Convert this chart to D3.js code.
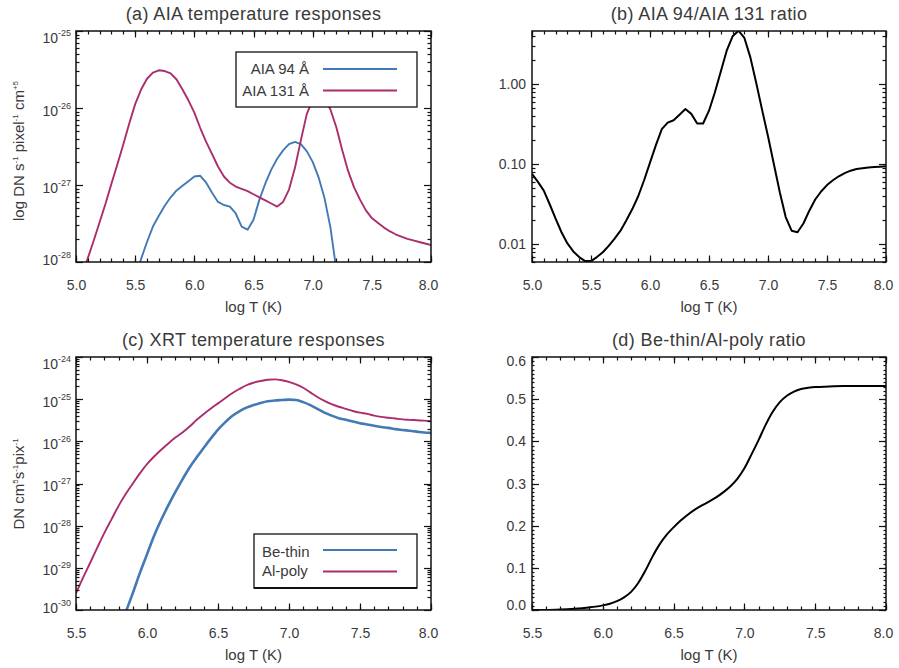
<!DOCTYPE html>
<html><head><meta charset="utf-8">
<script src="https://cdn.jsdelivr.net/npm/d3@7"></script>
<style>
body{margin:0;background:#fff}
svg text{font-family:"Liberation Sans",Arial,Helvetica,sans-serif}
</style>
</head><body>
<svg id="chart" width="899" height="668"></svg>
<script>
// ---------------- DATA ----------------
// (a) AIA temperature responses, log10(DN s^-1 pixel^-1 cm^5)
const tAIA94 = [5.50,5.55,5.60,5.65,5.70,5.75,5.80,5.85,5.90,5.95,6.00,6.05,6.10,6.15,6.20,6.25,6.30,6.35,6.40,6.45,6.50,6.55,6.60,6.65,6.70,6.75,6.80,6.85,6.90,6.95,7.00,7.05,7.10,7.15,7.20,7.25];
const aia94Log = [-28.25,-27.96,-27.74,-27.54,-27.40,-27.27,-27.16,-27.07,-27.01,-26.95,-26.89,-26.88,-26.97,-27.10,-27.22,-27.26,-27.28,-27.37,-27.54,-27.58,-27.45,-27.19,-26.98,-26.80,-26.66,-26.55,-26.47,-26.44,-26.47,-26.56,-26.70,-26.90,-27.17,-27.55,-28.10,-28.60];
const tAIA131 = [5.05,5.10,5.15,5.20,5.25,5.30,5.35,5.40,5.45,5.50,5.55,5.60,5.65,5.70,5.75,5.80,5.85,5.90,5.95,6.00,6.05,6.10,6.15,6.20,6.25,6.30,6.35,6.40,6.45,6.50,6.55,6.60,6.65,6.70,6.75,6.80,6.85,6.90,6.95,7.00,7.05,7.10,7.15,7.20,7.25,7.30,7.35,7.40,7.45,7.50,7.55,7.60,7.65,7.70,7.75,7.80,7.85,7.90,7.95,8.00];
const aia131Log = [-28.18,-27.95,-27.72,-27.48,-27.24,-26.98,-26.73,-26.47,-26.20,-25.95,-25.76,-25.62,-25.54,-25.51,-25.52,-25.55,-25.63,-25.76,-25.90,-26.06,-26.26,-26.44,-26.60,-26.76,-26.89,-26.97,-27.02,-27.05,-27.08,-27.12,-27.16,-27.20,-27.24,-27.28,-27.22,-27.06,-26.78,-26.42,-26.08,-25.89,-25.82,-25.87,-26.02,-26.25,-26.55,-26.82,-27.03,-27.19,-27.33,-27.43,-27.49,-27.55,-27.60,-27.64,-27.67,-27.70,-27.72,-27.74,-27.76,-27.78];

// (b) AIA 94 / AIA 131 ratio, log10
const tRatioAIA = [5.00,5.05,5.10,5.15,5.20,5.25,5.30,5.35,5.40,5.45,5.50,5.55,5.60,5.65,5.70,5.75,5.80,5.85,5.90,5.95,6.00,6.05,6.10,6.15,6.20,6.25,6.30,6.35,6.40,6.45,6.50,6.55,6.60,6.65,6.70,6.75,6.80,6.85,6.90,6.95,7.00,7.05,7.10,7.15,7.20,7.25,7.30,7.35,7.40,7.45,7.50,7.55,7.60,7.65,7.70,7.75,7.80,7.85,7.90,7.95,8.00];
const ratioAIALog = [-1.12,-1.22,-1.33,-1.50,-1.68,-1.85,-1.99,-2.09,-2.16,-2.21,-2.21,-2.16,-2.10,-2.02,-1.93,-1.83,-1.70,-1.56,-1.40,-1.20,-0.98,-0.76,-0.56,-0.48,-0.45,-0.38,-0.31,-0.37,-0.49,-0.49,-0.33,-0.10,0.16,0.42,0.60,0.67,0.58,0.34,0.02,-0.32,-0.65,-1.00,-1.35,-1.66,-1.83,-1.85,-1.74,-1.58,-1.44,-1.34,-1.26,-1.20,-1.15,-1.11,-1.08,-1.06,-1.05,-1.04,-1.035,-1.03,-1.025];

// (c) XRT temperature responses, log10(DN cm^5 s^-1 pix^-1)
const tAlPoly = [5.50,5.55,5.60,5.65,5.70,5.75,5.80,5.85,5.90,5.95,6.00,6.05,6.10,6.15,6.20,6.25,6.30,6.35,6.40,6.45,6.50,6.55,6.60,6.65,6.70,6.75,6.80,6.85,6.90,6.95,7.00,7.05,7.10,7.15,7.20,7.25,7.30,7.35,7.40,7.45,7.50,7.55,7.60,7.65,7.70,7.75,7.80,7.85,7.90,7.95,8.00];
const alPolyLog = [-29.60,-29.23,-28.88,-28.52,-28.17,-27.85,-27.53,-27.25,-27.00,-26.76,-26.54,-26.36,-26.20,-26.05,-25.91,-25.79,-25.65,-25.49,-25.35,-25.22,-25.10,-24.98,-24.86,-24.76,-24.67,-24.61,-24.57,-24.54,-24.53,-24.55,-24.59,-24.65,-24.73,-24.84,-24.95,-25.04,-25.12,-25.18,-25.23,-25.28,-25.32,-25.35,-25.39,-25.42,-25.44,-25.46,-25.48,-25.49,-25.50,-25.51,-25.52];
const tBeThin = [5.80,5.85,5.90,5.95,6.00,6.05,6.10,6.15,6.20,6.25,6.30,6.35,6.40,6.45,6.50,6.55,6.60,6.65,6.70,6.75,6.80,6.85,6.90,6.95,7.00,7.05,7.10,7.15,7.20,7.25,7.30,7.35,7.40,7.45,7.50,7.55,7.60,7.65,7.70,7.75,7.80,7.85,7.90,7.95,8.00];
const beThinLog = [-30.50,-30.05,-29.60,-29.12,-28.68,-28.24,-27.86,-27.52,-27.20,-26.90,-26.62,-26.38,-26.15,-25.93,-25.72,-25.55,-25.40,-25.29,-25.20,-25.14,-25.09,-25.05,-25.03,-25.02,-25.01,-25.02,-25.07,-25.14,-25.23,-25.32,-25.39,-25.45,-25.49,-25.53,-25.57,-25.60,-25.63,-25.66,-25.68,-25.71,-25.73,-25.75,-25.77,-25.79,-25.80];

// (d) Be-thin / Al-poly ratio
const tRatioXRT = [5.50,5.60,5.70,5.80,5.90,5.95,6.00,6.05,6.10,6.15,6.20,6.25,6.30,6.35,6.40,6.45,6.50,6.55,6.60,6.65,6.70,6.75,6.80,6.85,6.90,6.95,7.00,7.05,7.10,7.15,7.20,7.25,7.30,7.35,7.40,7.45,7.50,7.60,7.70,7.80,7.90,8.00];
const ratioXRT = [0.000,0.000,0.001,0.003,0.006,0.008,0.011,0.015,0.021,0.030,0.043,0.064,0.093,0.126,0.155,0.178,0.196,0.212,0.226,0.238,0.248,0.257,0.267,0.279,0.293,0.311,0.336,0.369,0.403,0.439,0.470,0.493,0.508,0.518,0.524,0.527,0.529,0.530,0.531,0.531,0.531,0.531];

// tick labels
const xTicksAB = [5.0,5.5,6.0,6.5,7.0,7.5,8.0];
const xTicksCD = [5.5,6.0,6.5,7.0,7.5,8.0];
const yTicksA = [1e-28,1e-27,1e-26,1e-25];
const yTicksB = [0.01,0.1,1];
const yTicksC = [1e-30,1e-29,1e-28,1e-27,1e-26,1e-25,1e-24];
const yTicksD = [0,0.1,0.2,0.3,0.4,0.5,0.6];

const BLUE = "#4379b5", MAG = "#ac2d6d", INK = "#111", TXT = "#3a3a3a";
const FONT = '"Liberation Sans",Arial,Helvetica,sans-serif';

// ---------------- DRAW ----------------
const svg = d3.select("#chart");

function logMinors(domain){
  const out=[]; const lo=Math.floor(Math.log10(domain[0])), hi=Math.ceil(Math.log10(domain[1]));
  for(let e=lo;e<=hi;e++) for(let k=2;k<=9;k++){const v=k*Math.pow(10,e); if(v>=domain[0]*0.9999 && v<=domain[1]*1.0001) out.push(v);}
  return out;
}

function tickMarks(g, vals, pos, horizontal, edge, len){
  const r = v => Math.round(v)+0.5;
  g.selectAll(null).data(vals).join("line")
    .attr("x1", d=> horizontal ? r(pos(d)) : edge)
    .attr("x2", d=> horizontal ? r(pos(d)) : edge+len)
    .attr("y1", d=> horizontal ? edge : r(pos(d)))
    .attr("y2", d=> horizontal ? edge+len : r(pos(d)))
    .attr("stroke", INK).attr("stroke-width", 1.2);
}

function panel(p){
  const g = svg.append("g");
  const x = d3.scaleLinear().domain(p.xDomain).range([p.left,p.right]);
  const y = (p.log?d3.scaleLog():d3.scaleLinear()).domain(p.yDomain).range([p.bottom,p.top]);
  const cid = "clip_"+p.id;
  svg.append("clipPath").attr("id",cid).append("rect")
    .attr("x",p.left).attr("y",p.top).attr("width",p.right-p.left).attr("height",p.bottom-p.top);

  p.series.forEach(s=>{
    const pts = d3.zip(s.x,s.y);
    g.append("path").datum(pts)
      .attr("clip-path",`url(#${cid})`)
      .attr("fill","none").attr("stroke",s.color).attr("stroke-width",s.width||1.8)
      .attr("stroke-linejoin","round")
      .attr("d",d3.line().x(d=>x(d[0])).y(d=>y(s.isLog?Math.pow(10,d[1]):d[1])).curve(s.curve||d3.curveLinear));
  });

  g.append("rect").attr("x",p.left).attr("y",p.top).attr("width",p.right-p.left).attr("height",p.bottom-p.top)
    .attr("fill","none").attr("stroke",INK).attr("stroke-width",1.5);

  const xMinors = d3.range(Math.round(p.xDomain[0]*10), Math.round(p.xDomain[1]*10)+1).map(v=>v/10);
  const tk = g.append("g").attr("class","ticks");
  tickMarks(tk, xMinors, x, true, p.bottom, -3.5);
  tickMarks(tk, xMinors, x, true, p.top, 3.5);
  tickMarks(tk, p.xTicks, x, true, p.bottom, -6.5);
  tickMarks(tk, p.xTicks, x, true, p.top, 6.5);
  tickMarks(tk, p.yMinors, y, false, p.left, p.minorLen);
  tickMarks(tk, p.yMinors, y, false, p.right, -p.minorLen);
  tickMarks(tk, p.yTicks, y, false, p.left, 7);
  tickMarks(tk, p.yTicks, y, false, p.right, -7);

  const xb = g.append("g").attr("transform",`translate(0,${p.bottom})`)
    .call(d3.axisBottom(x).tickValues(p.xTicks).tickSize(0).tickPadding(18).tickFormat(d3.format(".1f")));
  xb.selectAll("text").attr("font-size",14).attr("fill",TXT).attr("font-family",FONT);
  xb.selectAll(".tick text").filter(d=>d===p.xDomain[1]).attr("dx",-3);

  const yl = g.append("g").attr("transform",`translate(${p.left},0)`)
    .call(d3.axisLeft(y).tickValues(p.yTicks).tickSize(0).tickPadding(p.sup?5:6).tickFormat(p.sup?()=>"":p.yFmt));
  yl.selectAll("text").attr("font-size",14).attr("fill",TXT).attr("font-family",FONT);
  const yMin = p.yDomain[0], yMax = p.yDomain[1];
  yl.selectAll(".tick text").each(function(d){
    const t=d3.select(this);
    let dy = p.sup ? 7 : 4.5;
    if(p.nudge && Math.abs(d-yMax)<1e-9*Math.abs(yMax)) dy += 4;
    if(p.nudge && (d===yMin || Math.abs(d-yMin)<1e-9*Math.abs(yMin))) dy -= 5;
    t.attr("dy",dy);
    if(p.sup){
      t.text(null);
      t.append("tspan").text("10");
      t.append("tspan").attr("dy",-7).attr("font-size",9).text(String(Math.round(Math.log10(d))));
    }
  });
  g.selectAll(".domain").remove();

  const cx=(p.left+p.right)/2;
  g.append("text").attr("x",cx).attr("y",p.top-11).attr("text-anchor","middle")
    .attr("font-size",18).attr("letter-spacing",0.4).attr("fill",TXT).text(p.title);
  g.append("text").attr("x",cx).attr("y",p.bottom+50).attr("text-anchor","middle")
    .attr("font-size",15).attr("fill",TXT).text("log T (K)");

  if(p.yTitle){
    const yt = g.append("text").attr("transform",`translate(24,${p.yTitleY}) rotate(-90)`)
      .attr("text-anchor","middle").attr("font-size",15).attr("fill",TXT);
    p.yTitle.forEach(part=>{
      if(part.sup) yt.append("tspan").attr("dy",-6).attr("font-size",8).text(part.t);
      else yt.append("tspan").attr("dy",part.after?6:0).text(part.t);
    });
  }

  if(p.legend){
    const L=p.legend;
    g.append("rect").attr("x",L.x).attr("y",L.y).attr("width",L.w).attr("height",L.h)
      .attr("fill","#fff").attr("stroke",INK).attr("stroke-width",1.3);
    if(L.thickBottom) g.append("line").attr("x1",L.x).attr("x2",L.x+L.w).attr("y1",L.y+L.h).attr("y2",L.y+L.h)
      .attr("stroke",INK).attr("stroke-width",2.2);
    L.items.forEach((it,i)=>{
      const yy=L.lineY[i];
      g.append("text").attr("x",L.textX).attr("y",L.textY[i]).attr("text-anchor",L.anchor)
        .attr("font-size",15).attr("fill",TXT).text(it.label);
      g.append("line").attr("x1",L.lx1).attr("x2",L.lx2).attr("y1",yy).attr("y2",yy)
        .attr("stroke",it.color).attr("stroke-width",2);
    });
  }
}

panel({
  id:"a", left:76,right:431,top:31,bottom:262, xDomain:[5,8], yDomain:[1e-28,1e-25], log:true, sup:true, nudge:true,
  xTicks:xTicksAB, yTicks:yTicksA, yMinors:logMinors([1e-28,1e-25]), minorLen:3.5,
  title:"(a) AIA temperature responses",
  series:[
    {x:tAIA94,y:aia94Log,isLog:true,color:BLUE,width:1.9},
    {x:tAIA131,y:aia131Log,isLog:true,color:MAG,width:1.9}
  ],
  yTitle:[{t:"log DN s"},{t:"-1",sup:true},{t:" pixel",after:true},{t:"-1",sup:true},{t:" cm",after:true},{t:"+5",sup:true}],
  yTitleY:151,
  legend:{x:236,y:52,w:181,h:55,anchor:"end",textX:309,textY:[74,96],lineY:[69,90.5],lx1:323,lx2:397,
    items:[{label:"AIA 94 Å",color:BLUE},{label:"AIA 131 Å",color:MAG}]}
});

panel({
  id:"b", left:532,right:886,top:31,bottom:262, xDomain:[5,8], yDomain:[0.006,4.64], log:true, sup:false,
  xTicks:xTicksAB, yTicks:yTicksB, yMinors:logMinors([0.006,4.64]), minorLen:3.5, yFmt:d3.format(".2f"),
  title:"(b) AIA 94/AIA 131 ratio",
  series:[{x:tRatioAIA,y:ratioAIALog,isLog:true,color:"#000",width:2}]
});

panel({
  id:"c", left:76,right:431,top:357,bottom:610, xDomain:[5.5,8], yDomain:[1e-30,1e-24], log:true, sup:true, nudge:true,
  xTicks:xTicksCD, yTicks:yTicksC, yMinors:logMinors([1e-30,1e-24]), minorLen:3.5,
  title:"(c) XRT temperature responses",
  series:[
    {x:tBeThin,y:beThinLog,isLog:true,color:BLUE,width:2.6,curve:d3.curveMonotoneX},
    {x:tAlPoly,y:alPolyLog,isLog:true,color:MAG,width:1.9,curve:d3.curveMonotoneX}
  ],
  yTitle:[{t:"DN cm"},{t:"5",sup:true},{t:"s",after:true},{t:"-1",sup:true},{t:"pix",after:true},{t:"-1",sup:true}],
  yTitleY:484,
  legend:{x:254,y:534,w:163,h:54,anchor:"start",textX:262,textY:[556.5,576],lineY:[550,571.5],lx1:323,lx2:397,thickBottom:true,
    items:[{label:"Be-thin",color:BLUE},{label:"Al-poly",color:MAG}]}
});

panel({
  id:"d", left:532,right:886,top:357,bottom:610, xDomain:[5.5,8], yDomain:[0,0.6], log:false, sup:false, nudge:true,
  xTicks:xTicksCD, yTicks:yTicksD, yMinors:d3.range(0,61).map(v=>v/100), minorLen:2.5, yFmt:d3.format(".1f"),
  title:"(d) Be-thin/Al-poly ratio",
  series:[{x:tRatioXRT,y:ratioXRT,isLog:false,color:"#000",width:2,curve:d3.curveMonotoneX}]
});
</script>
</body></html>
